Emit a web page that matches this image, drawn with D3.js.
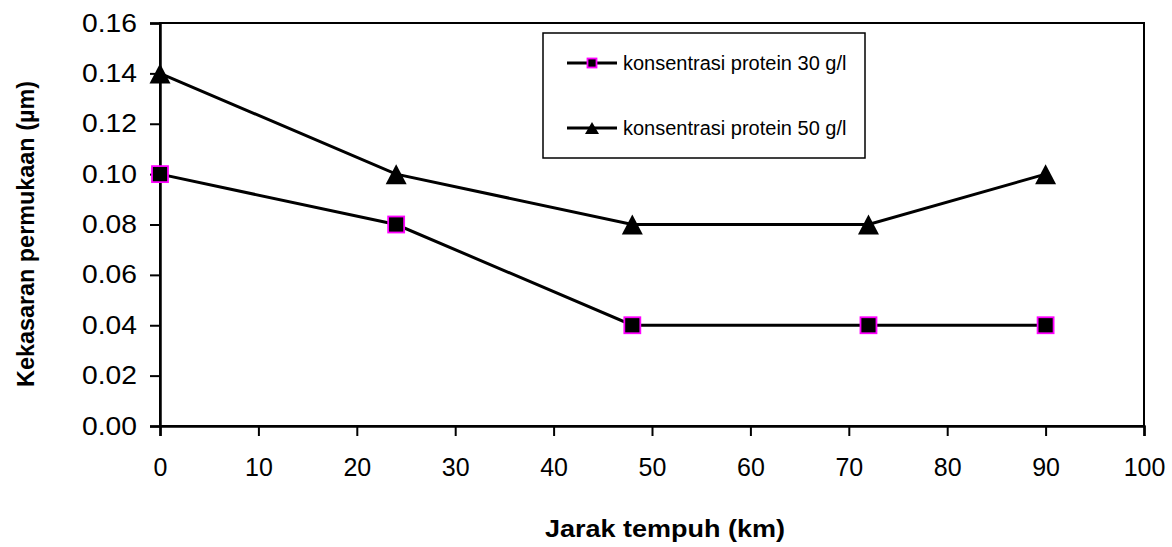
<!DOCTYPE html>
<html><head><meta charset="utf-8">
<script src="https://cdn.jsdelivr.net/npm/d3@7"></script>
<style>body{margin:0;background:#fff}svg{display:block}text{font-family:"Liberation Sans",Arial,sans-serif}</style>
</head><body>
<svg id="c" width="1172" height="547"></svg>
<script>
const xValues = [0, 24, 48, 72, 90];
const series30 = [0.10, 0.08, 0.04, 0.04, 0.04];
const series50 = [0.14, 0.10, 0.08, 0.08, 0.10];
const seriesNames = ["konsentrasi protein 30 g/l", "konsentrasi protein 50 g/l"];
const xTicks = [0,10,20,30,40,50,60,70,80,90,100];
const yTicks = [0,0.02,0.04,0.06,0.08,0.10,0.12,0.14,0.16];
const xTitle = "Jarak tempuh (km)";
const yTitle = "Kekasaran permukaan (µm)";

const svg = d3.select("#c");
const L=160,R=1144,T=23,B=426;
const x = d3.scaleLinear().domain([0,100]).range([L,R]);
const y = d3.scaleLinear().domain([0,0.16]).range([B,T]);

svg.append("rect").attr("x",L).attr("y",T).attr("width",R-L).attr("height",B-T)
  .attr("fill","none").attr("stroke","#000").attr("stroke-width",2);

const ya = svg.append("g").attr("transform",`translate(${L},0)`)
  .call(d3.axisLeft(y).tickValues(yTicks).tickFormat(d3.format(".2f")).tickSize(10).tickPadding(13));
ya.select(".domain").attr("stroke-width",2.5);
ya.selectAll(".tick line").attr("stroke-width",2);
ya.selectAll("text").attr("font-size",25).attr("fill","#000").attr("textLength",55).attr("lengthAdjust","spacingAndGlyphs");

const xa = svg.append("g").attr("transform",`translate(0,${B})`)
  .call(d3.axisBottom(x).tickValues(xTicks).tickSize(10).tickPadding(22));
xa.select(".domain").attr("stroke-width",2.5);
xa.selectAll(".tick line").attr("stroke-width",2);
xa.selectAll("text").attr("font-size",25).attr("fill","#000");

const line = d3.line().x((d,i)=>x(xValues[i])).y(d=>y(d));
[series30, series50].forEach(s=>{
  svg.append("path").datum(s).attr("d",line).attr("fill","none").attr("stroke","#000").attr("stroke-width",3);
});

function square(g,cx,cy,size){
  g.append("rect").attr("x",cx-size/2).attr("y",cy-size/2).attr("width",size).attr("height",size)
   .attr("fill","#000").attr("stroke","#ff00ff").attr("stroke-width",1.8);
}
function tri(g,cx,cy,w,h){
  g.append("path").attr("d",`M${cx},${cy-h/2}L${cx+w/2},${cy+h/2}L${cx-w/2},${cy+h/2}Z`).attr("fill","#000");
}
series30.forEach((v,i)=>square(svg,x(xValues[i]),y(v),16));
series50.forEach((v,i)=>tri(svg,x(xValues[i]),y(v),21,20));

svg.append("rect").attr("x",543).attr("y",33).attr("width",322).attr("height",125)
  .attr("fill","#fff").attr("stroke","#000").attr("stroke-width",1.5);
[63,128].forEach((ly,i)=>{
  svg.append("line").attr("x1",567).attr("x2",617).attr("y1",ly).attr("y2",ly).attr("stroke","#000").attr("stroke-width",3);
  if(i===0) square(svg,592,ly,9); else tri(svg,592,ly,14,12);
  svg.append("text").attr("x",623).attr("y",ly+7).attr("font-size",20).text(seriesNames[i]);
});

svg.append("text").attr("x",665).attr("y",537).attr("text-anchor","middle")
  .attr("font-size",24).attr("font-weight","bold")
  .attr("textLength",240).attr("lengthAdjust","spacingAndGlyphs").text(xTitle);
svg.append("text").attr("transform","translate(34,234) rotate(-90)").attr("text-anchor","middle")
  .attr("font-size",24).attr("font-weight","bold")
  .attr("textLength",306).attr("lengthAdjust","spacingAndGlyphs").text(yTitle);
</script>
</body></html>
